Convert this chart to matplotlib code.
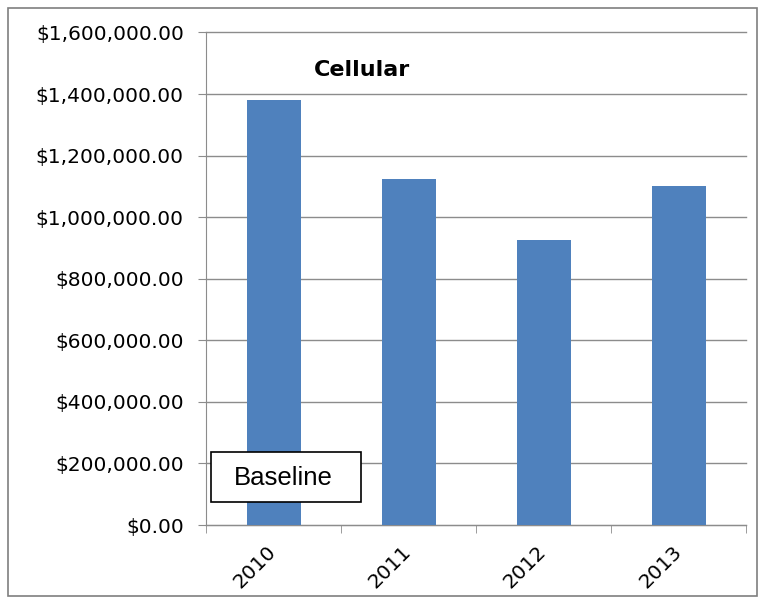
import matplotlib
matplotlib.use("Agg")
import matplotlib.pyplot as plt
from matplotlib.patches import Rectangle
from matplotlib.ticker import FuncFormatter, MultipleLocator

years = ["2010", "2011", "2012", "2013"]
cellular_cost = [1381000, 1123500, 927500, 1100800]
chart_title = "Cellular"
note_text = "Baseline"

W, H = 765, 603
fig = plt.figure(figsize=(W / 100, H / 100), dpi=100)
fig.patch.set_facecolor("white")

# outer chart border
fig.add_artist(Rectangle((8 / W, 1 - 596 / H), 749 / W, 588 / H,
                         transform=fig.transFigure, fill=False,
                         edgecolor="#7f7f7f", linewidth=1.2))

ax = fig.add_axes([206 / W, 1 - 525 / H, 540 / W, 492.5 / H])
x = list(range(len(years)))
ax.bar(x, cellular_cost, width=0.4, color="#4F81BD", zorder=3)

ax.set_xlim(-0.5, len(years) - 0.5)
ax.set_ylim(0, 1600000)
ax.yaxis.set_major_locator(MultipleLocator(200000))
ax.yaxis.set_major_formatter(FuncFormatter(lambda v, p: f"${v:,.2f}"))
ax.grid(axis="y", color="#8c8c8c", linewidth=1, zorder=0)
for gl in ax.get_ygridlines():
    gl.set_clip_on(False)

ax.set_xticks(x)
ax.set_xticklabels(years, rotation=45, ha="right", va="center",
                   rotation_mode="anchor")
ax.set_xticks([i - 0.5 for i in range(len(years) + 1)], minor=True)
ax.tick_params(axis="x", which="major", length=0, pad=17)
ax.tick_params(axis="x", which="minor", length=6, color="#8c8c8c", direction="out")
ax.tick_params(axis="y", length=6, color="#8c8c8c", direction="out", pad=10)
for lbl in ax.get_xticklabels() + ax.get_yticklabels():
    lbl.set_fontfamily("DejaVu Sans")
    lbl.set_fontsize(14.5)

for s in ["top", "right"]:
    ax.spines[s].set_visible(False)
ax.spines["left"].set_color("#8c8c8c")
ax.spines["bottom"].set_color("#8c8c8c")

fig.text(362 / W, 1 - 70 / H, chart_title, ha="center", va="center",
         fontsize=16, fontweight="bold", family="DejaVu Sans")

fig.add_artist(Rectangle((211 / W, 1 - 502 / H), 150 / W, 50 / H,
                         transform=fig.transFigure, facecolor="white",
                         edgecolor="black", linewidth=1.2, zorder=4))
fig.text(283 / W, 1 - 478 / H, note_text, ha="center", va="center",
         fontsize=18.5, family="Liberation Sans", zorder=5)

fig.savefig("out.png", dpi=100)
